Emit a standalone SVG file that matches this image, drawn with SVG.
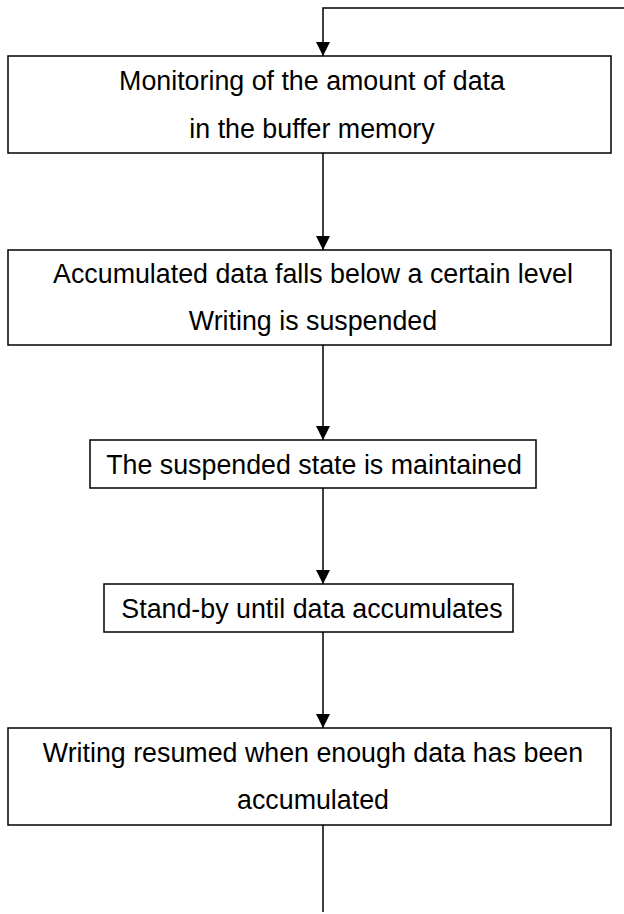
<svg xmlns="http://www.w3.org/2000/svg" width="624" height="914" viewBox="0 0 624 914">
<style>
.box{fill:#fff;stroke:#000;stroke-width:1.5}
.t{font-family:"Liberation Sans",Arial,sans-serif;font-size:26.8px;fill:#000;text-anchor:middle}
.c{fill:none;stroke:#000;stroke-width:1.5}
</style>
<defs>
<marker id="ah" markerWidth="14" markerHeight="14" refX="14" refY="7" orient="auto" markerUnits="userSpaceOnUse">
<path d="M0,0 L14,7 L0,14 Z" fill="#000"/>
</marker>
</defs>
<rect width="624" height="914" fill="#fff"/>
<g id="connectors">
<path class="c" d="M624,8 H323 V56" marker-end="url(#ah)"/>
<path class="c" d="M323,153 V250" marker-end="url(#ah)"/>
<path class="c" d="M323,345 V440" marker-end="url(#ah)"/>
<path class="c" d="M323,488 V584" marker-end="url(#ah)"/>
<path class="c" d="M323,632 V728" marker-end="url(#ah)"/>
<path class="c" d="M323,825 V912"/>
</g>
<g id="n1">
<rect class="box" x="8" y="56" width="603" height="97"/>
<text class="t" x="312" y="90">Monitoring of the amount of data</text>
<text class="t" x="312" y="138">in the buffer memory</text>
</g>
<g id="n2">
<rect class="box" x="8" y="250" width="603" height="95"/>
<text class="t" x="313" y="283">Accumulated data falls below a certain level</text>
<text class="t" x="313" y="330">Writing is suspended</text>
</g>
<g id="n3">
<rect class="box" x="90" y="440" width="446" height="48"/>
<text class="t" x="314" y="474">The suspended state is maintained</text>
</g>
<g id="n4">
<rect class="box" x="104" y="584" width="409" height="48"/>
<text class="t" x="312" y="618">Stand-by until data accumulates</text>
</g>
<g id="n5">
<rect class="box" x="8" y="728" width="603" height="97"/>
<text class="t" x="313" y="762">Writing resumed when enough data has been</text>
<text class="t" x="313" y="809">accumulated</text>
</g>
</svg>
